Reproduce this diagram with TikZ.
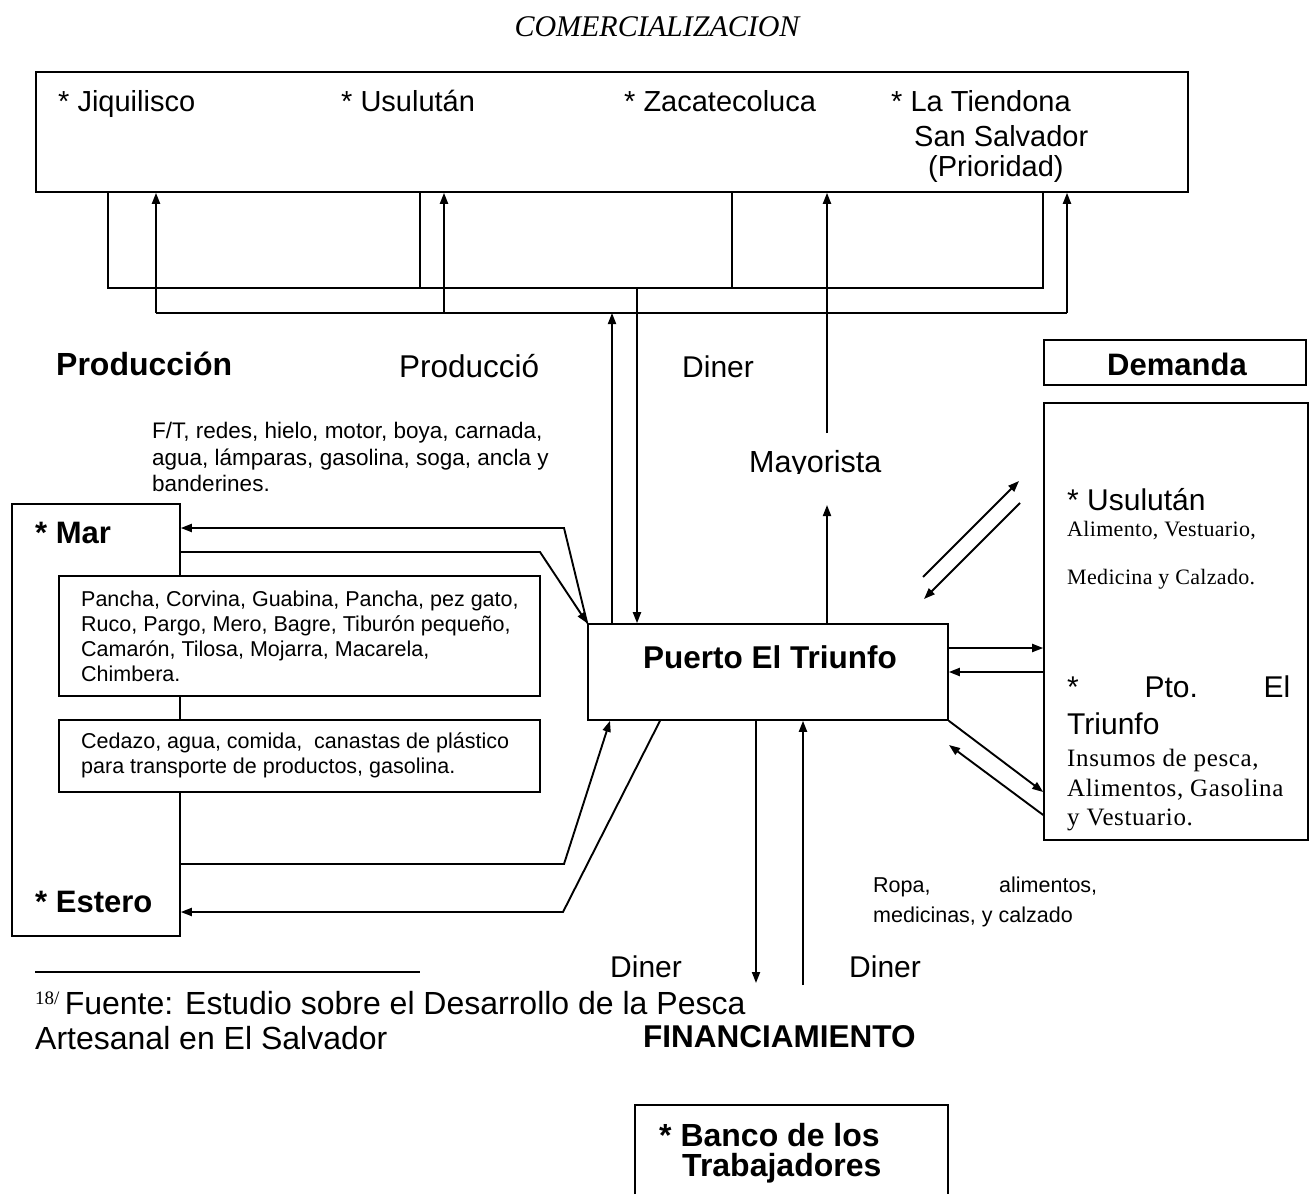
\documentclass[tikz,border=0pt]{standalone}
\usepackage{fontspec}
\setmainfont{Liberation Sans}
\newfontfamily\serifface{Liberation Serif}
\usetikzlibrary{arrows.meta}

\newcommand{\fsz}[1]{\fontsize{#1}{#1}\selectfont}

\begin{document}
\begin{tikzpicture}[x=1pt,y=-1pt,
  box/.style={draw, line width=1.6pt, fill=white, inner sep=0pt},
  link/.style={line width=1.5pt},
  flow/.style={line width=1.9pt, -{Triangle[length=11pt,width=8pt]}},
  lbl/.style={inner sep=0pt, anchor=west},
  bl/.style={inner sep=0pt, anchor=base west},
  big/.style={bl, font=\fsz{29}},
  small/.style={lbl, align=left, font=\fontsize{21.5}{25}\selectfont},
]
\useasboundingbox (0,0) rectangle (1311,1194);
\fill[white] (0,0) rectangle (1311,1194);

% title
\node[inner sep=0pt, font=\serifface\itshape\fsz{30}] (titulo) at (657,27) {COMERCIALIZACION};

% markets box
\node[box, minimum width=1152pt, minimum height=120pt] (mercados) at (612,132) {};
\node[big] (jiq) at (58,111) {* Jiquilisco};
\node[big] (usu) at (341,111) {* Usulután};
\node[big] (zac) at (624,111) {* Zacatecoluca};
\node[big] (tie) at (891,111) {* La Tiendona};
\node[big] (ssv) at (914,146) {San Salvador};
\node[big] (pri) at (928,176) {(Prioridad)};

% demand
\node[box, minimum width=262pt, minimum height=45pt] (demanda) at (1175,362.5) {};
\node[inner sep=0pt, font=\bfseries\fsz{31}] (demtxt) at (1177,364) {Demanda};

% port
\node[box, minimum width=360pt, minimum height=96pt] (puerto) at (768,672) {};
\node[inner sep=0pt, font=\bfseries\fsz{31.5}] (puertotxt) at (770,657) {Puerto El Triunfo};

% suppliers box on the right
\node[box, minimum width=264pt, minimum height=437pt] (destinos) at (1176,621.5) {};
\node[lbl, font=\fsz{30}] (dusu) at (1067,500) {* Usulután};
\node[lbl, font=\serifface\fsz{22}\addfontfeature{LetterSpace=1.5}] (dali) at (1067,531) {Alimento, Vestuario,};
\node[lbl, font=\serifface\fsz{22}\addfontfeature{LetterSpace=1.5}] (dmed) at (1067,579) {Medicina y Calzado.};
\node[lbl, font=\fsz{30}] (dpto) at (1067,687) {\makebox[223pt][s]{*\hfill Pto.\hfill El}};
\node[lbl, font=\fsz{30}] (dtri) at (1067,724) {Triunfo};
\node[lbl, font=\serifface\fsz{25}\addfontfeature{LetterSpace=2.5}] (dins) at (1067,760) {Insumos de pesca,};
\node[lbl, font=\serifface\fsz{25}\addfontfeature{LetterSpace=2.5}] (dali2) at (1067,790) {Alimentos, Gasolina};
\node[lbl, font=\serifface\fsz{25}\addfontfeature{LetterSpace=2.5}] (dves) at (1067,820) {y Vestuario.};

% fishing grounds
\node[box, minimum width=168pt, minimum height=432pt] (mar) at (96,720) {};
\node[lbl, font=\bfseries\fsz{31}] (martxt) at (35,533) {* Mar};
\node[lbl, font=\bfseries\fsz{31}] (esttxt) at (35,902) {* Estero};
\node[box, minimum width=481pt, minimum height=120pt] (especies) at (299.5,636) {};
\node[small] (esptxt) at (81,636) {Pancha, Corvina, Guabina, Pancha, pez gato,\\Ruco, Pargo, Mero, Bagre, Tiburón pequeño,\\Camarón, Tilosa, Mojarra, Macarela,\\Chimbera.};
\node[box, minimum width=481pt, minimum height=72pt] (insumos) at (299.5,756) {};
\node[small] (instxt) at (81,755) {Cedazo, agua, comida, \ canastas de plástico\\para transporte de productos, gasolina.};

% free labels
\node[lbl, font=\bfseries\fsz{32}] (prod) at (56,364) {Producción};
\node[lbl, font=\fsz{31.5}] (prod2) at (399,366) {Producció};
\node[lbl, font=\fsz{30}] (diner1) at (682,367) {Diner};
\begin{scope}
  \clip (700,400) rectangle (900,473);
  \node[bl, font=\fsz{30.5}] (mayor) at (749,472) {Mayorista};
\end{scope}
\node[lbl, align=left, font=\fontsize{22.5}{26.5}\selectfont] (equipo) at (152,457) {F/T, redes, hielo, motor, boya, carnada,\\agua, lámparas, gasolina, soga, ancla y\\banderines.};
\node[lbl, align=left, font=\fontsize{21.5}{30}\selectfont] (ropa) at (873,902) {\makebox[224pt][s]{Ropa,\hfill alimentos,}\\medicinas, y calzado};
\node[lbl, font=\fsz{30}] (diner2) at (610,967) {Diner};
\node[lbl, font=\fsz{30}] (diner3) at (849,967) {Diner};
\node[lbl, font=\bfseries\fsz{31.5}] (finan) at (643,1037) {FINANCIAMIENTO};

% bank (frame runs off the bottom edge)
\node[lbl, font=\bfseries\fsz{32}] (banco) at (659,1135) {* Banco de los};
\node[lbl, font=\bfseries\fsz{32}] (banco2) at (682,1168) {Trabajadores};
\draw[line width=1.6pt] (635,1194) -- (635,1105) -- (948,1105) -- (948,1194);

% footnote
\draw[line width=1.5pt] (35,972) -- (420,972);
\node[bl, font=\fsz{32}] (fuente) at (35,1014) {{\serifface\fsz{19}\raisebox{10pt}{18/}}\,Fuente: Estudio sobre el Desarrollo de la Pesca};
\node[bl, font=\fsz{32}] (fuente2) at (35,1049) {Artesanal en El Salvador};

% collection from the markets down to the port
\draw[link] (108,0 |- mercados.south) |- (1043,288) -- (1043,0 |- mercados.south);
\draw[link] (420,0 |- mercados.south) -- (420,288);
\draw[link] (732,0 |- mercados.south) -- (732,288);
\draw[flow] (637,288) -- (637,0 |- puerto.north);
% distribution from the port up to the markets
\draw[flow] (612,0 |- puerto.north) -- (612,313);
\draw[link] (156,313) -- (1067,313);
\draw[flow] (156,313) -- (156,0 |- mercados.south);
\draw[flow] (444,313) -- (444,0 |- mercados.south);
\draw[flow] (1067,313) -- (1067,0 |- mercados.south);
% wholesale
\draw[flow] (827,0 |- puerto.north) -- (827,505);
\draw[flow] (827,433) -- (827,0 |- mercados.south);

% port and the fishing grounds
\draw[flow] (puerto.north west) -- (564,528) -- (mar.east |- 0,528);
\draw[flow] (mar.east |- 0,552) -- (540,552) -- (puerto.north west);
\draw[flow] (mar.east |- 0,864) -- (564,864) -- (610,0 |- puerto.south);
\draw[flow] (660,0 |- puerto.south) -- (563,912) -- (mar.east |- 0,912);

% port and the suppliers
\draw[flow] (923,577) -- (1019,481);
\draw[flow] (1020,503) -- (924,599);
\draw[flow] (puerto.east |- 0,648) -- (destinos.west |- 0,648);
\draw[flow] (destinos.west |- 0,672) -- (puerto.east |- 0,672);
\draw[flow] (puerto.south east) -- (destinos.west |- 0,792);
\draw[flow] (destinos.west |- 0,815) -- (949,745);

% port and financing
\draw[flow] (756,0 |- puerto.south) -- (756,983);
\draw[flow] (803,985) -- (803,0 |- puerto.south);
\end{tikzpicture}
\end{document}
